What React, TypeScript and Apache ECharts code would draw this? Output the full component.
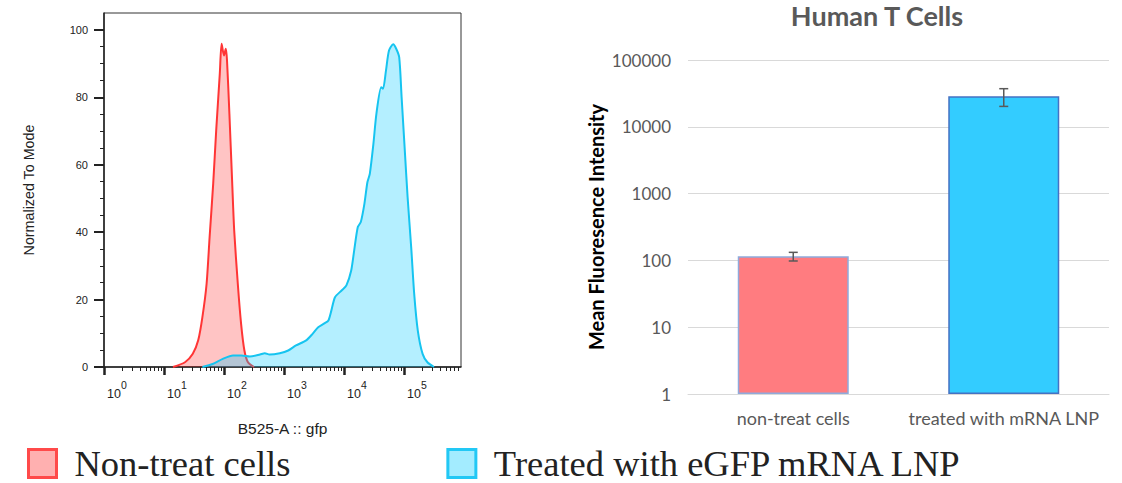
import { useEffect, useRef } from 'react';
import * as echarts from 'echarts';

// ---------- Left panel: flow cytometry histogram (x in log10 of B525-A intensity) ----------
const histDecades = [0, 1, 2, 3, 4, 5];
const histXMax = 5.95;
const histYTicks = [0, 20, 40, 60, 80, 100];
const histYMinorTicks = [5, 10, 15, 25, 30, 35, 45, 50, 55, 65, 70, 75, 85, 90, 95];

const redName = 'Non-treat cells';
const redLogX = [1.15, 1.35, 1.48, 1.57, 1.64, 1.71, 1.76, 1.82, 1.87, 1.93, 1.96, 2.0, 2.03, 2.05, 2.09, 2.135, 2.17, 2.23, 2.285, 2.34, 2.4, 2.5];
const redY = [0, 1.4, 3.9, 7.9, 14.8, 24.7, 38.5, 54.4, 70.2, 87, 95.9, 92.4, 94.4, 91, 75.1, 55.3, 40.5, 24.7, 12.8, 4.9, 1.4, 0];

const blueName = 'Treated with eGFP mRNA LNP';
const blueLogX = [1.64, 1.81, 1.98, 2.15, 2.29, 2.43, 2.6, 2.68, 2.76, 2.93, 3.07, 3.2, 3.37, 3.48, 3.57, 3.68, 3.74, 3.79, 3.85, 3.96, 4.04, 4.12, 4.17, 4.23, 4.28, 4.34, 4.39, 4.43, 4.49, 4.54, 4.62, 4.65, 4.70, 4.75, 4.82, 4.87, 4.92, 4.96, 5.01, 5.06, 5.12, 5.17, 5.23, 5.31, 5.39, 5.5];
const blueY = [0, 0.9, 2.4, 3.4, 3.4, 3.1, 3.7, 4.1, 3.7, 4.1, 4.9, 6.4, 7.9, 9.9, 11.8, 13.0, 13.8, 16.8, 20.7, 22.7, 24.2, 28.6, 34.6, 41.5, 43, 48.4, 54.8, 57.3, 66.2, 75.1, 83, 82.5, 88, 93.9, 95.7, 94.4, 91.9, 80.1, 65.2, 50.4, 35.5, 21.7, 10.8, 3.9, 1.4, 0];

// ---------- Right panel: MFI bar chart ----------
const mfiCategories = ['non-treat cells', 'treated with mRNA LNP'];
const mfiValues = [115, 28700];
const mfiErrors = [17, 8500];

const minorDecadeSteps = [2, 3, 4, 5, 6, 7, 8, 9];

function buildOption() {
  const minorX: number[] = [];
  histDecades.forEach((d) => {
    minorDecadeSteps.forEach((m) => {
      const v = d + Math.log10(m);
      if (v < histXMax) minorX.push(v);
    });
  });

  const sans = 'Liberation Sans';
  const lato = 'Lato';
  const dark = '#222';

  return {
    animation: false,
    backgroundColor: '#ffffff',
    title: {
      text: 'Human T Cells',
      left: 877,
      top: 0,
      padding: [2, 0, 0, 0],
      textAlign: 'center',
      textStyle: { fontFamily: lato, fontWeight: 'bold', fontSize: 27, color: '#595959' },
    },
    legend: {
      left: 27,
      top: 445,
      padding: 0,
      itemWidth: 28,
      itemHeight: 28,
      itemGap: 156,
      icon: 'rect',
      selectedMode: false,
      textStyle: { fontFamily: 'Liberation Serif', fontSize: 36.5, color: '#222', padding: [0, 0, 0, 13], lineHeight: 31 },
      data: [
        { name: redName, itemStyle: { color: '#ffb0b0', borderColor: '#ff4a4a', borderWidth: 3 } },
        { name: blueName, itemStyle: { color: '#a3ecff', borderColor: '#22c8f5', borderWidth: 3 } },
      ],
    },
    grid: [
      { left: 104, top: 13, width: 357, height: 354, show: true, borderColor: '#333', borderWidth: 1, backgroundColor: 'transparent' },
      { left: 688, right: 13, top: 60, bottom: 89 },
    ],
    xAxis: [
      {
        type: 'value',
        gridIndex: 0,
        min: 0,
        max: histXMax,
        position: 'bottom',
        name: 'B525-A :: gfp',
        nameLocation: 'middle',
        nameGap: 53,
        nameTextStyle: { fontFamily: sans, fontSize: 15.5, color: dark },
        axisLine: { show: true, lineStyle: { color: dark, width: 1.5 } },
        axisTick: { show: true, customValues: histDecades, length: 8, lineStyle: { color: dark, width: 2.5 } },
        axisLabel: {
          customValues: histDecades,
          align: 'left',
          margin: 12,
          padding: [0, 0, 0, 3],
          formatter: (v: number) => `{b|10}{s|${Math.round(v)}}`,
          rich: {
            b: { fontFamily: sans, fontSize: 12.5, color: dark, lineHeight: 21, verticalAlign: 'bottom' },
            s: { fontFamily: sans, fontSize: 10.5, color: dark, lineHeight: 12, verticalAlign: 'top' },
          },
        },
        splitLine: { show: false },
      },
      {
        type: 'value',
        gridIndex: 0,
        min: 0,
        max: histXMax,
        position: 'bottom',
        axisLine: { show: false },
        axisLabel: { show: false },
        axisTick: { show: true, customValues: minorX, length: 4, lineStyle: { color: dark, width: 1 } },
        splitLine: { show: false },
      },
      {
        type: 'category',
        gridIndex: 1,
        data: mfiCategories,
        position: 'bottom',
        axisLine: { show: true, lineStyle: { color: '#d9d9d9', width: 1 } },
        axisTick: { show: false },
        axisLabel: { interval: 0, fontFamily: lato, fontSize: 18, color: '#595959', margin: 15 },
      },
    ],
    yAxis: [
      {
        type: 'value',
        gridIndex: 0,
        min: 0,
        max: 105,
        name: 'Normalized To Mode',
        nameLocation: 'middle',
        nameGap: 68,
        nameTextStyle: { fontFamily: sans, fontSize: 14.3, color: dark },
        axisLine: { show: true, lineStyle: { color: dark, width: 1.5 } },
        axisTick: { show: true, customValues: histYTicks, length: 10, lineStyle: { color: dark, width: 2 } },
        axisLabel: { customValues: histYTicks, margin: 16, fontFamily: sans, fontSize: 11, color: dark },
        splitLine: { show: false },
      },
      {
        type: 'value',
        gridIndex: 0,
        min: 0,
        max: 105,
        position: 'left',
        axisLine: { show: false },
        axisLabel: { show: false },
        axisTick: { show: true, customValues: histYMinorTicks, length: 4, lineStyle: { color: dark, width: 1 } },
        splitLine: { show: false },
      },
      {
        type: 'log',
        logBase: 10,
        gridIndex: 1,
        min: 1,
        max: 100000,
        name: 'Mean Fluoresence Intensity',
        nameLocation: 'middle',
        nameGap: 82,
        nameTextStyle: { fontFamily: lato, fontWeight: 'bold', fontSize: 20, color: '#000' },
        axisLine: { show: false },
        axisTick: { show: false },
        axisLabel: { fontFamily: lato, fontSize: 17, color: '#595959', margin: 17, formatter: (v: number) => String(Math.round(v)) },
        splitLine: { show: true, lineStyle: { color: '#d9d9d9', width: 1 } },
      },
    ],
    series: [
      {
        name: redName,
        type: 'line',
        xAxisIndex: 0,
        yAxisIndex: 0,
        data: redLogX.map((x, i) => [x, redY[i]]),
        smooth: 0.25,
        showSymbol: false,
        lineStyle: { color: '#ff3535', width: 2 },
        itemStyle: { color: '#ff3535' },
        areaStyle: { color: 'rgba(255,0,0,0.33)' },
        z: 2,
      },
      {
        name: blueName,
        type: 'line',
        xAxisIndex: 0,
        yAxisIndex: 0,
        data: blueLogX.map((x, i) => [x, blueY[i]]),
        smooth: 0.25,
        showSymbol: false,
        lineStyle: { color: '#16c4f0', width: 2 },
        itemStyle: { color: '#16c4f0' },
        areaStyle: { color: 'rgba(0,200,255,0.42)' },
        z: 3,
      },
      {
        name: 'MFI',
        type: 'bar',
        xAxisIndex: 2,
        yAxisIndex: 2,
        barWidth: 111,
        data: [
          { value: mfiValues[0], itemStyle: { color: '#ff7c80', borderColor: '#8faadc', borderWidth: 1.5 } },
          { value: mfiValues[1], itemStyle: { color: '#33ccff', borderColor: '#4472c4', borderWidth: 1.5 } },
        ],
      },
      {
        name: 'MFI error',
        type: 'custom',
        xAxisIndex: 2,
        yAxisIndex: 2,
        encode: { x: 0, y: [1, 2] },
        data: mfiValues.map((v, i) => [i, v - mfiErrors[i], v + mfiErrors[i]]),
        renderItem: (_params: any, api: any) => {
          const x = api.value(0);
          const lo = api.coord([x, api.value(1)]);
          const hi = api.coord([x, api.value(2)]);
          const w = 4.5;
          const st = { stroke: '#595959', lineWidth: 1.5 };
          return {
            type: 'group',
            children: [
              { type: 'line', shape: { x1: lo[0], y1: lo[1], x2: hi[0], y2: hi[1] }, style: st },
              { type: 'line', shape: { x1: lo[0] - w, y1: lo[1], x2: lo[0] + w, y2: lo[1] }, style: st },
              { type: 'line', shape: { x1: hi[0] - w, y1: hi[1], x2: hi[0] + w, y2: hi[1] }, style: st },
            ],
          };
        },
        z: 5,
      },
    ],
  };
}

export default function App() {
  const ref = useRef<HTMLDivElement>(null);
  useEffect(() => {
    if (!ref.current) return;
    const chart = echarts.init(ref.current, null, { renderer: 'svg' });
    chart.setOption(buildOption() as any);
    return () => chart.dispose();
  }, []);
  return <div ref={ref} style={{ position: 'absolute', left: 0, top: 0, width: 1122, height: 483 }} />;
}
